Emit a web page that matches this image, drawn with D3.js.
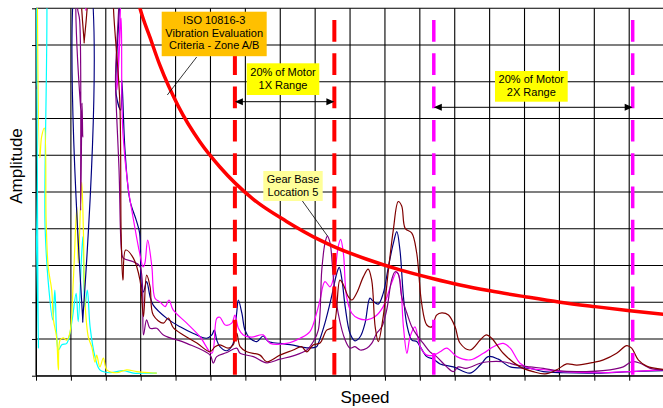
<!DOCTYPE html>
<html><head><meta charset="utf-8">
<script src="https://cdn.jsdelivr.net/npm/d3@7"></script>
<style>
body{margin:0;background:#fff}
svg{display:block}
text{font-family:"Liberation Sans",Arial,Helvetica,sans-serif;fill:#000}
</style>
</head><body>
<svg id="chart" width="663" height="408"></svg>
<script>
// ---- data (speed in arbitrary units, amplitude in grid units) ----
const speedTicks = d3.range(0, 1701, 100);
const ampTicks = d3.range(0, 11, 1);
const xTitle = "Speed";
const yTitle = "Amplitude";

const isoCurve = [[285,10.5],[298,10.0],[327,9.2],[355,8.45],[408,7.33],[470,6.36],[527,5.68],[623,4.8],[718,4.2],[814,3.69],[852,3.52],[948,3.17],[1043,2.88],[1139,2.64],[1215,2.47],[1301,2.31],[1401,2.15],[1502,2.00],[1602,1.88],[1702,1.77],[1800,1.67]];

const cyanSeries = [[1,12],[7,0.75],[10,12],[19,12],[26,4.06],[35,2.56],[48,1.52],[54,2.33],[59,1.15],[64,0.70],[74,0.84],[88,0.88],[97,1.15],[105,1.61],[115,2.24],[121,1.47],[134,3.78],[140,1.88],[147,2.33],[155,1.33],[169,0.52],[183,0.16],[212,0.08],[250,0.14],[279,0.07],[317,0.07],[346,0.07]];

const yellowSeries = [[3,12],[11,5.93],[16,6.50],[24,6.74],[29,4.24],[35,2.96],[45,2.33],[50,1.52],[59,1.05],[64,0.16],[69,0.97],[78,1.03],[88,0.97],[97,1.16],[107,2.60],[117,4.59],[121,3.07],[131,5.27],[136,3.88],[140,2.06],[150,1.05],[160,0.78],[169,0.37],[174,0.56],[183,0.24],[193,0.48],[203,0.16],[231,0.08],[260,0.16],[289,0.11],[327,0.08],[346,0.07]];

const navySeries = [[0,12],[123,12],[134,1.46],[139,12],[221,12],[230,7.64],[243,7.23],[246,8.05],[255,6.14],[269,4.78],[287,4.24],[297,3.88],[302,2.46],[308,2.28],[317,2.56],[327,2.15],[336,1.92],[375,1.56],[413,1.33],[451,1.15],[489,1.02],[504,1.11],[511,1.24],[518,0.97],[527,0.79],[547,0.68],[565,0.88],[575,1.70],[580,2.06],[590,1.70],[599,1.24],[613,1.02],[633,0.93],[651,1.08],[666,0.93],[699,0.88],[737,0.83],[776,0.76],[804,0.79],[809,0.88],[828,1.43],[847,2.15],[862,2.79],[869,2.95],[877,2.60],[886,1.88],[900,1.15],[914,0.95],[929,1.06],[943,1.43],[957,2.11],[966,2.03],[981,1.95],[995,2.24],[1010,2.97],[1024,3.60],[1034,3.92],[1043,3.42],[1053,2.15],[1063,1.38],[1077,0.97],[1091,0.93],[1101,0.79],[1120,0.52],[1139,0.45],[1158,0.32],[1196,0.24],[1244,0.07],[1273,0.29],[1296,0.52],[1325,0.45],[1359,0.24],[1416,0.20],[1454,0.11],[1511,0.08],[1607,0.07],[1702,0.11],[1798,0.14]];

const magentaSeries = [[0,12],[140,12],[143,9.95],[146,12],[221,12],[232,7.78],[244,9.73],[246,7.69],[249,6.61],[264,5.13],[283,4.05],[297,3.34],[307,2.96],[312,3.06],[320,3.69],[332,2.97],[341,2.11],[355,2.01],[370,1.88],[381,2.06],[393,1.79],[432,1.43],[470,1.06],[504,0.61],[518,1.56],[527,1.59],[542,1.38],[561,1.43],[570,1.65],[580,1.29],[594,1.11],[618,1.05],[651,1.11],[671,0.88],[718,0.88],[757,1.02],[785,1.20],[804,1.70],[814,2.06],[828,2.56],[843,2.42],[857,2.88],[866,3.51],[873,3.71],[881,3.33],[890,2.15],[905,1.70],[924,1.56],[948,1.52],[972,1.61],[995,1.88],[1019,2.52],[1034,2.83],[1043,2.60],[1053,1.33],[1063,0.61],[1072,1.06],[1086,1.33],[1101,0.79],[1120,0.56],[1139,0.56],[1158,0.65],[1177,0.75],[1206,0.52],[1244,0.43],[1282,0.61],[1311,0.79],[1339,0.88],[1359,0.75],[1387,0.34],[1416,0.20],[1464,0.16],[1511,0.11],[1607,0.08],[1702,0.11],[1798,0.16]];

const purpleSeries = [[0,7.8],[3,12],[112,12],[119,10.0],[125,9.68],[128,4.50],[132,7.42],[134,6.50],[138,12],[218,12],[228,7.86],[238,5.60],[245,3.42],[250,3.20],[279,3.10],[298,2.97],[308,1.11],[317,1.52],[327,1.29],[346,1.29],[365,1.11],[432,0.88],[499,0.56],[508,0.34],[518,0.52],[547,0.63],[575,0.75],[585,0.61],[623,0.52],[661,0.35],[699,0.45],[737,0.54],[776,0.70],[795,0.93],[809,1.24],[819,2.88],[828,3.60],[835,3.80],[843,3.60],[852,2.69],[866,1.70],[886,0.97],[900,0.75],[914,0.79],[929,0.70],[948,0.75],[962,0.88],[976,1.15],[991,1.33],[1005,1.79],[1019,2.60],[1029,2.83],[1038,2.77],[1048,2.15],[1063,1.70],[1077,1.33],[1091,1.11],[1110,0.88],[1129,0.65],[1148,0.52],[1177,0.24],[1196,0.11],[1210,0.24],[1232,0.20],[1273,0.34],[1296,0.38],[1339,0.38],[1378,0.29],[1416,0.24],[1454,0.20],[1492,0.14],[1550,0.11],[1645,0.16],[1683,0.24],[1707,0.38],[1731,0.34],[1760,0.20],[1798,0.16]];

const brownSeries = [[0,12],[131,12],[138,9.06],[143,12],[218,12],[222,10.0],[240,7.50],[244,3.88],[249,2.60],[257,3.42],[279,3.20],[298,2.60],[308,1.61],[317,2.74],[327,2.42],[336,1.65],[365,1.43],[379,1.57],[394,1.30],[422,1.11],[461,0.89],[499,0.65],[513,0.79],[527,0.84],[551,0.75],[565,0.84],[575,1.16],[585,0.79],[604,0.65],[642,0.56],[661,0.38],[699,0.56],[737,0.70],[761,0.79],[776,0.65],[795,0.84],[814,0.89],[833,1.24],[852,1.33],[871,2.60],[881,2.47],[895,2.15],[905,2.06],[919,2.25],[938,2.69],[952,2.90],[962,2.60],[972,1.33],[981,0.93],[995,1.61],[1010,2.88],[1024,3.97],[1038,4.74],[1048,4.62],[1058,4.01],[1077,3.88],[1091,3.34],[1105,1.98],[1120,1.38],[1134,1.33],[1148,1.65],[1163,1.71],[1182,1.65],[1201,1.33],[1215,0.89],[1244,0.70],[1273,0.97],[1290,1.11],[1306,1.02],[1339,0.61],[1387,0.24],[1425,0.11],[1459,0.05],[1492,0.16],[1521,0.32],[1550,0.29],[1597,0.36],[1626,0.43],[1664,0.61],[1693,0.82],[1707,0.75],[1726,0.43],[1750,0.26],[1798,0.17]];

const motor1X = [570, 855];
const motor2X = [1140, 1710];
const isoLabel = ["ISO 10816-3", "Vibration Evaluation", "Criteria - Zone A/B"];
const range1XLabel = ["20% of Motor", "1X Range"];
const range2XLabel = ["20% of Motor", "2X Range"];
const gearLabel = ["Gear Base", "Location 5"];

// ---- drawing ----
const svg = d3.select("#chart");
const x = d3.scaleLinear().domain([0, 1800]).range([36, 664.1]);
const y = d3.scaleLinear().domain([0, 10]).range([375.7, 8.3]);

svg.append("rect").attr("width", 663).attr("height", 408).attr("fill", "#fff");

const defs = svg.append("defs");
defs.append("clipPath").attr("id", "plotClip").append("rect")
  .attr("x", x(0)).attr("y", y(10)).attr("width", x(1800) - x(0)).attr("height", y(0) - y(10));

// grid
const grid = svg.append("g");
grid.selectAll("line.v").data(speedTicks).join("line")
  .attr("x1", d => x(d)).attr("x2", d => x(d)).attr("y1", y(0)).attr("y2", y(10))
  .attr("stroke", "#000").attr("stroke-width", 1.1);
grid.selectAll("line.h").data(ampTicks).join("line")
  .attr("x1", x(0)).attr("x2", x(1800)).attr("y1", d => y(d)).attr("y2", d => y(d))
  .attr("stroke", "#000").attr("stroke-width", 1.1);

// axes
svg.append("g").attr("transform", `translate(0,${y(0)})`)
  .call(d3.axisBottom(x).tickValues(speedTicks).tickSize(5).tickSizeOuter(0).tickFormat(""));
svg.append("g").attr("transform", `translate(${x(0)},0)`)
  .call(d3.axisLeft(y).tickValues(ampTicks).tickSize(4).tickSizeOuter(0).tickFormat(""));
svg.selectAll(".domain").attr("stroke", "#000");
svg.selectAll(".tick line").attr("stroke", "#000");

// data lines
const line = d3.line().x(d => x(d[0])).y(d => y(d[1])).curve(d3.curveCatmullRom.alpha(0.5));
const isoLine = d3.line().x(d => x(d[0])).y(d => y(d[1])).curve(d3.curveMonotoneX);
const plot = svg.append("g").attr("clip-path", "url(#plotClip)");
const series = [
  {data: cyanSeries, color: "#00ffff"},
  {data: yellowSeries, color: "#ffff00"},
  {data: navySeries, color: "#000080"},
  {data: magentaSeries, color: "#ff00ff"},
  {data: purpleSeries, color: "#800080"},
  {data: brownSeries, color: "#800000"}
];
plot.selectAll("path.s").data(series).join("path")
  .attr("d", d => line(d.data)).attr("fill", "none")
  .attr("stroke", d => d.color).attr("stroke-width", 1.2).attr("stroke-linejoin", "round");

// ISO criteria curve
plot.append("path").attr("d", isoLine(isoCurve)).attr("fill", "none")
  .attr("stroke", "#ff0000").attr("stroke-width", 3.5);

// dashed range lines
const dashTop = 20;
const dashLines = [
  ...motor1X.map(v => ({v, c: "#ff0000", w: 4})),
  ...motor2X.map(v => ({v, c: "#ff00ff", w: 3.5}))
];
svg.selectAll("line.dash").data(dashLines).join("line")
  .attr("x1", d => x(d.v)).attr("x2", d => x(d.v)).attr("y1", dashTop).attr("y2", y(0))
  .attr("stroke", d => d.c).attr("stroke-width", d => d.w).attr("stroke-dasharray", "21.7,11.6");

// arrows
function arrow(x1, x2, yy) {
  const g = svg.append("g");
  g.append("line").attr("x1", x1 + 6).attr("x2", x2 - 6).attr("y1", yy).attr("y2", yy)
    .attr("stroke", "#000").attr("stroke-width", 1);
  g.append("path").attr("d", `M${x1},${yy}L${x1 + 8},${yy - 3.5}L${x1 + 8},${yy + 3.5}Z`).attr("fill", "#000");
  g.append("path").attr("d", `M${x2},${yy}L${x2 - 8},${yy - 3.5}L${x2 - 8},${yy + 3.5}Z`).attr("fill", "#000");
}
arrow(x(motor1X[0]), x(motor1X[1]), 101.7);
arrow(x(motor2X[0]), x(motor2X[1]), 107.3);

// leader lines
svg.append("line").attr("x1", 196.7).attr("y1", 57).attr("x2", 167.3).attr("y2", 95)
  .attr("stroke", "#000").attr("stroke-width", 0.8);
svg.append("line").attr("x1", 301.7).attr("y1", 200).attr("x2", 327.5).attr("y2", 236)
  .attr("stroke", "#000").attr("stroke-width", 0.8);

// labels
function labelBox(x0, y0, w, h, fill, lines, cx, firstY, dy) {
  const g = svg.append("g");
  g.append("rect").attr("x", x0).attr("y", y0).attr("width", w).attr("height", h).attr("fill", fill);
  g.selectAll("text").data(lines).join("text")
    .attr("x", cx).attr("y", (d, i) => firstY + i * dy)
    .attr("text-anchor", "middle").attr("dominant-baseline", "central")
    .style("font-size", "11px").text(d => d);
}
labelBox(161.7, 11.7, 105, 44.5, "#ffc000", isoLabel, 214.2, 20.3, 12.4);
labelBox(246.7, 63.3, 72.6, 31.7, "#ffff00", range1XLabel, 283, 71.5, 13.5);
labelBox(495, 71, 72.7, 30.7, "#ffff00", range2XLabel, 531.3, 79, 12.8);
labelBox(263.3, 171, 59.4, 30, "#ffff99", gearLabel, 293, 178.7, 12.8);

// axis titles
svg.append("text").attr("x", 365).attr("y", 403).attr("text-anchor", "middle")
  .style("font-size", "17px").text(xTitle);
svg.append("text").attr("transform", "translate(22,166) rotate(-90)").attr("text-anchor", "middle")
  .style("font-size", "17px").text(yTitle);
</script>
</body></html>
